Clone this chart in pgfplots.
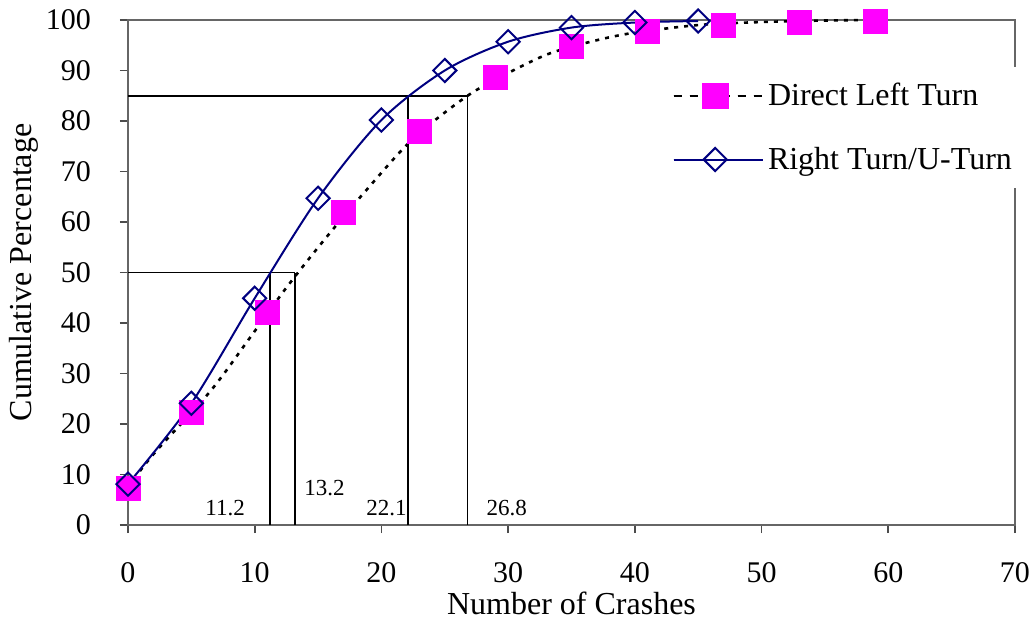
\documentclass[border=0pt]{standalone}
\usepackage{pgfplots}
\pgfplotsset{compat=1.18}
\usepackage{fontspec}
\setmainfont{Liberation Serif}
\definecolor{navyb}{RGB}{0,0,128}
\definecolor{mag}{RGB}{255,0,255}
\begin{document}
\begin{tikzpicture}
\useasboundingbox (-64pt,-49pt) rectangle (453.5pt,262.5pt);
\begin{axis}[
 at={(0,0)}, anchor=south west,
 scale only axis, width=443.5pt, height=252.5pt,
 xmin=0,xmax=70,ymin=0,ymax=100,
 xtick={0,10,...,70}, ytick={0,10,...,100},
 tick pos=left,
 tick align=outside, major tick length=4pt,
 tick style={gray!60!black, line width=0.8pt},
 axis line style={gray!80!black, line width=1pt},
 /pgf/number format/assume math mode=true,
 ticklabel style={font=\fontsize{15}{18}\selectfont},
 xticklabel style={yshift=-11pt},
 yticklabel style={xshift=-11pt},
 label style={font=\fontsize{16}{19}\selectfont},
 xlabel={Number of Crashes}, ylabel={Cumulative Percentage},
 xlabel style={at={(axis description cs:0.5,-0.1545)}, anchor=center},
 ylabel style={at={(axis description cs:-0.1173,0.5)}, anchor=center},
 legend style={at={(rel axis cs:0.5998,0.907)}, anchor=north west, draw=none, fill=white,
   font=\fontsize{16}{19}\selectfont, row sep=15pt, inner sep=6pt},
 legend cell align=left,
 legend image code/.code={\path (0pt,0pt) -- (44.5pt,0pt);\draw[mark repeat=2,mark phase=2,#1] plot coordinates {(0pt,0pt) (20.75pt,0pt) (41.5pt,0pt)};},
 clip=false,
]
% reference lines
\addplot[black, line width=0.8pt, forget plot] coordinates {(0,50) (13.2,50)};
\addplot[black, line width=0.8pt, forget plot] coordinates {(11.2,0) (11.2,50)};
\addplot[black, line width=0.8pt, forget plot] coordinates {(13.2,0) (13.2,50)};
\addplot[black, line width=0.8pt, forget plot] coordinates {(0,85) (26.8,85)};
\addplot[black, line width=0.8pt, forget plot] coordinates {(22.1,0) (22.1,85)};
\addplot[black, line width=0.8pt, forget plot] coordinates {(26.8,0) (26.8,85)};
% Direct left turn fitted curve (dotted)
\addplot[black, line width=1.3pt, dash pattern=on 2pt off 3pt, smooth, forget plot] coordinates {
(0,7.5) (2,14) (6.5,26.5) (9.6,37) (12.5,47) (15.5,56.5) (18.7,66) (22.5,76.5) (26.8,85) (30,89.5) (33.3,93.4) (37,96) (40,97.5) (45,99) (50,99.6) (55,99.9) (59,100)};
% Direct left turn data
\addplot[only marks, mark=square*, mark size=6pt, mark options={fill=mag, draw=mag}, forget plot] coordinates {
(0,7.3) (5,22.2) (11,42.1) (17,62.0) (23,77.9) (29,88.7) (35,94.7) (41,97.8) (47,99.0) (53,99.5) (59,99.8)};
% Right turn / U-turn
\addplot[navyb, line width=1pt, smooth, mark=square, mark size=4.1pt, mark options={rotate=45, fill=white, line width=1pt, draw=navyb}, forget plot] coordinates {
(0,8.1) (5,24.1) (10,44.9) (15,64.7) (20,80.2) (25,90.0) (30,95.7) (35,98.5) (40,99.5) (45,99.8)};
\addlegendimage{black, line width=1.3pt, dash pattern=on 4pt off 4pt, mark=square*, mark size=6pt, mark options={solid, fill=mag, draw=mag}}
\addlegendentry{Direct Left Turn}
\addlegendimage{navyb, line width=1pt, mark=square, mark size=4.1pt, mark options={rotate=45, fill=white, line width=1pt, draw=navyb}}
\addlegendentry{Right Turn/U-Turn}
% annotations
\node[font=\fontsize{11.5}{13}\selectfont] at (axis cs:7.66,3.4) {11.2};
\node[font=\fontsize{11.5}{13}\selectfont] at (axis cs:15.5,7.3) {13.2};
\node[font=\fontsize{11.5}{13}\selectfont] at (axis cs:20.4,3.4) {22.1};
\node[font=\fontsize{11.5}{13}\selectfont] at (axis cs:29.9,3.4) {26.8};
\end{axis}
\end{tikzpicture}
\end{document}
